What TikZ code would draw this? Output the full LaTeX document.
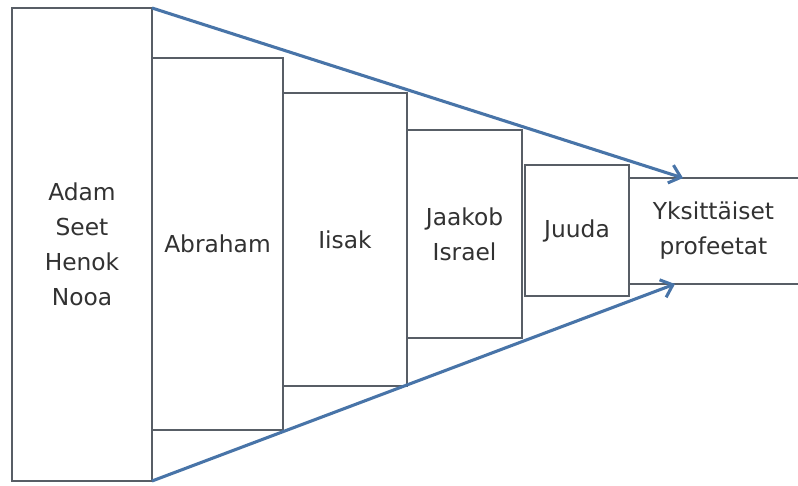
\documentclass[tikz,border=0pt]{standalone}
\usepackage{fontspec}
\setmainfont{DejaVu Sans}
\usetikzlibrary{arrows.meta}
\definecolor{boxline}{RGB}{88,94,102}
\definecolor{arrowblue}{RGB}{72,116,168}
\definecolor{textgray}{RGB}{50,50,50}
\tikzset{
  stage/.style={draw=boxline, line width=1.5pt, fill=white, inner sep=0pt,
    outer sep=0pt, anchor=north west, align=center, text=textgray,
    font=\fontsize{17.5}{26.25}\selectfont},
  flow/.style={draw=arrowblue, line width=2.3pt,
    -{Straight Barb[length=8pt,width=14pt]}}
}
\begin{document}
\begin{tikzpicture}[x=0.75pt,y=-0.75pt]
\useasboundingbox[fill=white] (0,0) rectangle (798,485);
% stages narrowing from left to right
\node[stage, minimum width=105pt, minimum height=354.75pt] (adam) at (12,8)
  {Adam\\Seet\\Henok\\Nooa};
\node[stage, minimum width=98.25pt, minimum height=279pt] (abraham) at (152,58)
  {Abraham};
\node[stage, minimum width=93pt, minimum height=219.75pt] (iisak) at (283,93)
  {Iisak};
\node[stage, minimum width=86.25pt, minimum height=156pt] (jaakob) at (407,130)
  {Jaakob\\Israel};
\node[stage, minimum width=78pt, minimum height=98.25pt] (juuda) at (525,165)
  {Juuda};
% last stage is open on its right side
\node[stage, draw=none, minimum width=126.75pt, minimum height=79.5pt] (prof) at (629,178)
  {Yksittäiset\\profeetat};
\draw[boxline, line width=1.5pt] (prof.north east) -- (prof.north west)
  -- (prof.south west) -- (prof.south east);
% converging arrows
\coordinate (toptip) at (683,178);
\coordinate (bottip) at (675,284);
\draw[flow] (adam.north east) -- (toptip);
\draw[flow] (adam.south east) -- (bottip);
\end{tikzpicture}
\end{document}
